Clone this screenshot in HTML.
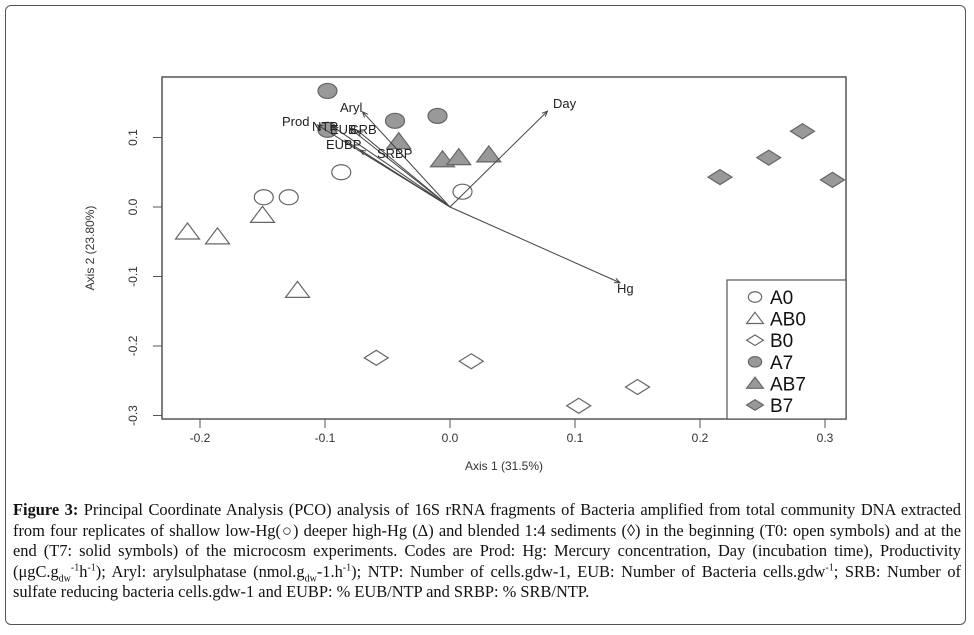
<!DOCTYPE html>
<html><head><meta charset="utf-8"><style>
body{margin:0;background:#fff;width:974px;height:635px;overflow:hidden;position:relative;font-family:"Liberation Sans",sans-serif}
#frame{position:absolute;left:5px;top:5px;width:961px;height:620px;border:1.5px solid #555;border-radius:6px;box-sizing:border-box}
#cap{position:absolute;left:13px;top:500px;width:948px;font-family:"Liberation Serif",serif;font-size:16.4px;line-height:20.5px;text-align:justify;color:#111}
#cap sub,#cap sup{font-size:10px;line-height:0}
</style></head><body>
<div id="frame"></div>
<svg id="chart" width="974" height="500" style="position:absolute;left:0;top:0"></svg>
<div id="cap"><b>Figure 3:</b> Principal Coordinate Analysis (PCO) analysis of 16S rRNA fragments of Bacteria amplified from total community DNA extracted from four replicates of shallow low-Hg(○) deeper high-Hg (Δ) and blended 1:4 sediments (◊) in the beginning (T0: open symbols) and at the end (T7: solid symbols) of the microcosm experiments. Codes are Prod: Hg: Mercury concentration, Day (incubation time), Productivity (μgC.g<sub>dw</sub><sup>-1</sup>h<sup>-1</sup>); Aryl: arylsulphatase (nmol.g<sub>dw</sub>-1.h<sup>-1</sup>); NTP: Number of cells.gdw-1, EUB: Number of Bacteria cells.gdw<sup>-1</sup>; SRB: Number of sulfate reducing bacteria cells.gdw-1 and EUBP: % EUB/NTP and SRBP: % SRB/NTP.</div>
<script>
const xTicks=[-0.2,-0.1,0.0,0.1,0.2,0.3];
const yTicks=[0.1,0.0,-0.1,-0.2,-0.3];
const groups=["A0","AB0","B0","A7","AB7","B7"];
const A0x=[-0.149,-0.129,-0.087,0.010], A0y=[0.014,0.014,0.050,0.022];
const AB0x=[-0.210,-0.186,-0.150,-0.122], AB0y=[-0.036,-0.043,-0.012,-0.120];
const B0x=[-0.059,0.017,0.103,0.150], B0y=[-0.217,-0.222,-0.286,-0.259];
const A7x=[-0.098,-0.044,-0.010,-0.098], A7y=[0.167,0.124,0.131,0.111];
const AB7x=[-0.041,-0.006,0.007,0.031], AB7y=[0.094,0.068,0.071,0.075];
const B7x=[0.216,0.255,0.282,0.306], B7y=[0.043,0.071,0.109,0.039];
const vecNames=["Day","Hg","Aryl","Prod","NTP","EUB","SRB","EUBP","SRBP"];
const vecX=[0.078,0.136,-0.070,-0.106,-0.094,-0.080,-0.074,-0.084,-0.072];
const vecY=[0.138,-0.109,0.137,0.118,0.116,0.113,0.110,0.096,0.082];
const X=v=>450+v*1250, Y=v=>207-v*695;
const svg=document.getElementById('chart'),NS='http://www.w3.org/2000/svg';
function mk(t,a,p){const e=document.createElementNS(NS,t);for(const k in a)e.setAttribute(k,a[k]);(p||svg).appendChild(e);return e;}
let e=mk('rect',{x:162,y:77,width:684,height:342,fill:'none',stroke:'#555','stroke-width':1.5});


xTicks.forEach(v=>{mk('line',{x1:X(v),x2:X(v),y1:419,y2:428,stroke:'#555'});
 const t=mk('text',{x:X(v),y:442,'text-anchor':'middle','font-size':12,fill:'#333'});t.textContent=v.toFixed(1);
 
 });
yTicks.forEach(v=>{mk('line',{x1:153,x2:162,y1:Y(v),y2:Y(v),stroke:'#555'});
 const t=mk('text',{x:0,y:0,'text-anchor':'middle','font-size':12,fill:'#333',transform:`translate(137,${Y(v)}) rotate(-90)`});t.textContent=v.toFixed(1);
 
 });
let t=mk('text',{x:504,y:470,'text-anchor':'middle','font-size':12,fill:'#333'});t.textContent='Axis 1 (31.5%)';


t=mk('text',{x:0,y:0,'text-anchor':'middle','font-size':12,fill:'#333',transform:'translate(94,248) rotate(-90)'});t.textContent='Axis 2 (23.80%)';


function sym(kind,fill,cx,cy,s){
 if(kind==='c')return mk('ellipse',{cx,cy,rx:9.5*s,ry:7.5*s,fill,stroke:'#666','stroke-width':1.2});
 if(kind==='t')return mk('polygon',{points:`${cx},${cy-9*s} ${cx+12*s},${cy+7*s} ${cx-12*s},${cy+7*s}`,fill,stroke:'#666','stroke-width':1.2});
 return mk('polygon',{points:`${cx},${cy-7.5*s} ${cx+12*s},${cy} ${cx},${cy+7.5*s} ${cx-12*s},${cy}`,fill,stroke:'#666','stroke-width':1.2});
}
const series=[[A0x,A0y,'c','#fff'],[AB0x,AB0y,'t','#fff'],[B0x,B0y,'d','#fff'],[A7x,A7y,'c','#999'],[AB7x,AB7y,'t','#999'],[B7x,B7y,'d','#999']];
series.forEach((s,gi)=>s[0].forEach((v,i)=>{const p=sym(s[2],s[3],X(v),Y(s[1][i]),1);
 
 }));
const lblPos={Day:[553,108,'start'],Hg:[617,293,'start'],Aryl:[340,112,'start'],Prod:[282,126,'start'],NTP:[312,131,'start'],EUB:[330,134,'start'],SRB:[350,134,'start'],EUBP:[326,149,'start'],SRBP:[377,158,'start']};
vecNames.forEach((n,i)=>{const x2=X(vecX[i]),y2=Y(vecY[i]);
 const l=mk('line',{x1:450,y1:207,x2,y2,stroke:'#444','stroke-width':1});
 
 
 const a=Math.atan2(y2-207,x2-450),h=6;
 mk('path',{d:`M${x2-h*Math.cos(a-0.4)},${y2-h*Math.sin(a-0.4)} L${x2},${y2} L${x2-h*Math.cos(a+0.4)},${y2-h*Math.sin(a+0.4)}`,fill:'none',stroke:'#444'});
 const p=lblPos[n];const tx=mk('text',{x:p[0],y:p[1],'font-size':13,fill:'#222','text-anchor':p[2]});tx.textContent=n;
 
 });
const lg=mk('rect',{x:727,y:280,width:119,height:139,fill:'#fff',stroke:'#555','stroke-width':1.2});


const lk=['c','t','d','c','t','d'],lf=['#fff','#fff','#fff','#999','#999','#999'];
groups.forEach((g,i)=>{const y=297+i*21.6;sym(lk[i],lf[i],755,y,0.7);
 const tx=mk('text',{x:770,y:y+7,'font-size':19,fill:'#111'});tx.textContent=g;
 
 });
</script>
</body></html>
